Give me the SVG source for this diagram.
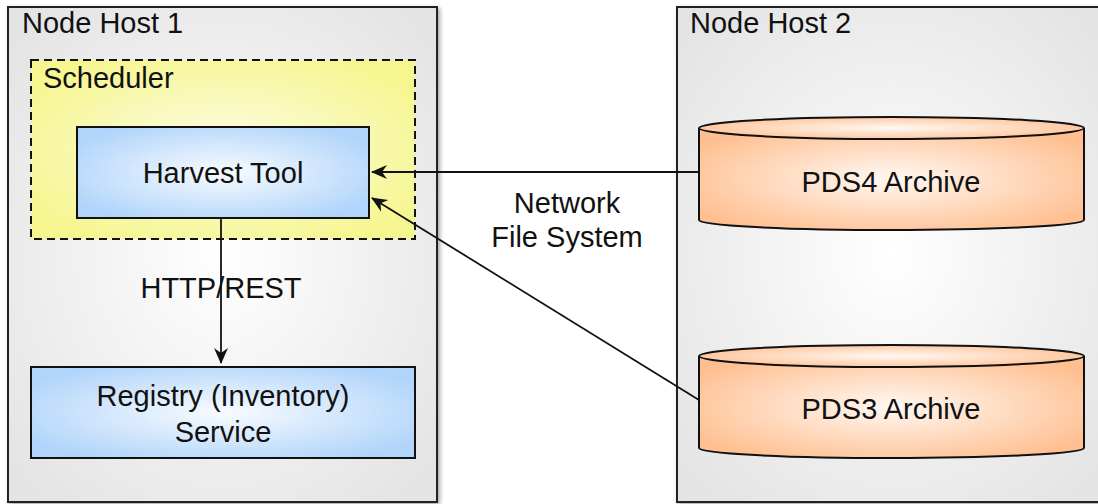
<svg xmlns="http://www.w3.org/2000/svg" width="1098" height="504" viewBox="0 0 1098 504">
<style>
text{font-family:"Liberation Sans",Arial,sans-serif;font-size:29px;fill:#111}
.host{stroke:#222;stroke-width:2}
.box{stroke:#111;stroke-width:2}
.conn{stroke:#111;stroke-width:1.8;fill:none}
</style>
<defs>
<radialGradient id="gHost" cx="50%" cy="50%" r="65%">
<stop offset="0" stop-color="#ffffff"/><stop offset="1" stop-color="#e4e4e4"/>
</radialGradient>
<radialGradient id="gSched" cx="50%" cy="50%" r="60%">
<stop offset="0" stop-color="#fcfce4"/><stop offset="1" stop-color="#f6f690"/>
</radialGradient>
<radialGradient id="gBlue" cx="50%" cy="50%" r="60%">
<stop offset="0" stop-color="#f8fbff"/><stop offset="1" stop-color="#b0d4fa"/>
</radialGradient>
<radialGradient id="gOrange" cx="50%" cy="50%" r="60%">
<stop offset="0" stop-color="#fff8f2"/><stop offset="1" stop-color="#ffbf90"/>
</radialGradient>
<filter id="sh" x="-5%" y="-5%" width="110%" height="110%">
<feDropShadow dx="2" dy="2" stdDeviation="2" flood-color="#000" flood-opacity="0.35"/>
</filter>
<marker id="arr" viewBox="0 0 16 16" refX="15" refY="8" markerWidth="16" markerHeight="16" markerUnits="userSpaceOnUse" orient="auto">
<path d="M0,1 L16,8 L0,15 L5,8 z" fill="#111"/>
</marker>
</defs>
<rect width="1098" height="504" fill="#ffffff"/>
<g id="host1">
<rect class="host" x="8" y="7" width="429" height="495" fill="url(#gHost)" filter="url(#sh)"/>
<text x="22" y="33">Node Host 1</text>
</g>
<g id="host2">
<rect class="host" x="677" y="7" width="430" height="495" fill="url(#gHost)" filter="url(#sh)"/>
<text x="690" y="33">Node Host 2</text>
</g>
<g id="scheduler">
<rect x="31" y="60" width="384" height="179" fill="url(#gSched)" stroke="#111" stroke-width="2" stroke-dasharray="8,5"/>
<text x="43" y="88">Scheduler</text>
</g>
<g id="harvest">
<rect class="box" x="77" y="127" width="292" height="91" fill="url(#gBlue)"/>
<text x="223" y="183" text-anchor="middle">Harvest Tool</text>
</g>
<g id="registry">
<rect class="box" x="31" y="367" width="384" height="91" fill="url(#gBlue)"/>
<text x="223" y="406" text-anchor="middle">Registry (Inventory)</text>
<text x="223" y="442" text-anchor="middle">Service</text>
</g>
<g id="pds4">
<path class="box" d="M699,128 L699,220 A192.5,10 0 0 0 1084,220 L1084,128" fill="url(#gOrange)"/>
<ellipse class="box" cx="891.5" cy="128" rx="192.5" ry="11" fill="url(#gOrange)"/>
<text x="891" y="192" text-anchor="middle">PDS4 Archive</text>
</g>
<g id="pds3">
<path class="box" d="M699,356 L699,448 A192.5,10 0 0 0 1084,448 L1084,356" fill="url(#gOrange)"/>
<ellipse class="box" cx="891.5" cy="356" rx="192.5" ry="11" fill="url(#gOrange)"/>
<text x="891" y="419" text-anchor="middle">PDS3 Archive</text>
</g>
<g id="connectors">
<line class="conn" x1="221" y1="218" x2="221" y2="363" marker-end="url(#arr)"/>
<line class="conn" x1="699" y1="172" x2="372" y2="172" marker-end="url(#arr)"/>
<line class="conn" x1="699" y1="400" x2="372" y2="198" marker-end="url(#arr)"/>
</g>
<g id="labels">
<text x="221" y="298" text-anchor="middle">HTTP/REST</text>
<text x="567" y="213" text-anchor="middle">Network</text>
<text x="567" y="247" text-anchor="middle">File System</text>
</g>
</svg>
